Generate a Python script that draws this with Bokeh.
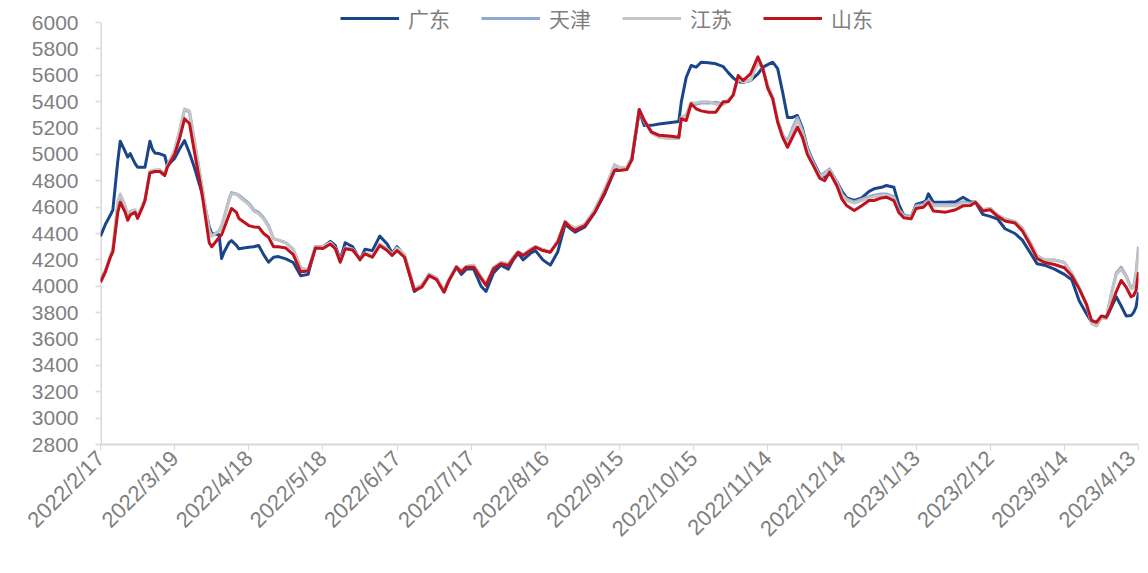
import math
import pandas as pd
from bokeh.plotting import figure
from bokeh.models import FixedTicker, Range1d, Legend, LegendItem
from bokeh.embed import file_html
from bokeh.resources import INLINE

dates = [
    "2022-02-17", "2022-02-19", "2022-02-21", "2022-02-22", "2022-02-24", "2022-02-25", "2022-02-27", "2022-02-28",
    "2022-03-01", "2022-03-03", "2022-03-04", "2022-03-06", "2022-03-07", "2022-03-09", "2022-03-10", "2022-03-11",
    "2022-03-13", "2022-03-15", "2022-03-16", "2022-03-19", "2022-03-21", "2022-03-23", "2022-03-25", "2022-03-27",
    "2022-03-30", "2022-04-02", "2022-04-03", "2022-04-06", "2022-04-07", "2022-04-08", "2022-04-10", "2022-04-11",
    "2022-04-13", "2022-04-14", "2022-04-18", "2022-04-20", "2022-04-22", "2022-04-24", "2022-04-26", "2022-04-28",
    "2022-04-30", "2022-05-03", "2022-05-06", "2022-05-09", "2022-05-12", "2022-05-15", "2022-05-18", "2022-05-21",
    "2022-05-23", "2022-05-25", "2022-05-27", "2022-05-30", "2022-06-02", "2022-06-04", "2022-06-07", "2022-06-10",
    "2022-06-13", "2022-06-15", "2022-06-17", "2022-06-20", "2022-06-24", "2022-06-27", "2022-06-30", "2022-07-03",
    "2022-07-06", "2022-07-08", "2022-07-11", "2022-07-13", "2022-07-15", "2022-07-18", "2022-07-21", "2022-07-23",
    "2022-07-26", "2022-07-29", "2022-08-01", "2022-08-03", "2022-08-05", "2022-08-07", "2022-08-10", "2022-08-12",
    "2022-08-15", "2022-08-18", "2022-08-21", "2022-08-24", "2022-08-26", "2022-08-28", "2022-09-01", "2022-09-05",
    "2022-09-09", "2022-09-13", "2022-09-15", "2022-09-18", "2022-09-20", "2022-09-23", "2022-09-25", "2022-09-28",
    "2022-10-01", "2022-10-05", "2022-10-09", "2022-10-10", "2022-10-12", "2022-10-14", "2022-10-16", "2022-10-18",
    "2022-10-21", "2022-10-24", "2022-10-27", "2022-10-29", "2022-10-31", "2022-11-02", "2022-11-04", "2022-11-07",
    "2022-11-10", "2022-11-12", "2022-11-14", "2022-11-16", "2022-11-18", "2022-11-20", "2022-11-22", "2022-11-24",
    "2022-11-26", "2022-11-28", "2022-11-30", "2022-12-02", "2022-12-05", "2022-12-07", "2022-12-09", "2022-12-12",
    "2022-12-14", "2022-12-16", "2022-12-19", "2022-12-22", "2022-12-25", "2022-12-27", "2022-12-30", "2023-01-01",
    "2023-01-04", "2023-01-06", "2023-01-08", "2023-01-11", "2023-01-13", "2023-01-16", "2023-01-17", "2023-01-18",
    "2023-01-20", "2023-01-25", "2023-01-29", "2023-02-01", "2023-02-04", "2023-02-06", "2023-02-09", "2023-02-12",
    "2023-02-15", "2023-02-18", "2023-02-22", "2023-02-25", "2023-02-28", "2023-03-03", "2023-03-06", "2023-03-10",
    "2023-03-14", "2023-03-17", "2023-03-20", "2023-03-23", "2023-03-25", "2023-03-27", "2023-03-29", "2023-03-31",
    "2023-04-02", "2023-04-04", "2023-04-06", "2023-04-08", "2023-04-10", "2023-04-11", "2023-04-12", "2023-04-13",
]

guangdong = [
    4380, 4470, 4540, 4580, 4950, 5100, 5020, 4980, 5006, 4930, 4903, 4903, 4903, 5100, 5040, 5010,
    5004, 4990, 4915, 4970, 5040, 5105, 5010, 4900, 4710, 4450, 4400, 4390, 4210, 4260, 4330, 4347,
    4310, 4284, 4296, 4300, 4309, 4240, 4182, 4220, 4225, 4208, 4180, 4080, 4090, 4300, 4300, 4340,
    4310, 4200, 4330, 4300, 4200, 4280, 4270, 4380, 4320, 4250, 4300, 4230, 3960, 4000, 4090, 4060,
    3960, 4044, 4145, 4090, 4130, 4130, 4000, 3960, 4100, 4160, 4130, 4200, 4250, 4200, 4250, 4270,
    4200, 4160, 4260, 4470, 4440, 4410, 4450, 4560, 4700, 4880, 4890, 4900, 4960, 5330, 5219, 5220,
    5230, 5240, 5250, 5396, 5585, 5674, 5661, 5699, 5695, 5687, 5665, 5620, 5580, 5550, 5547, 5560,
    5610, 5661, 5680, 5699, 5650, 5472, 5280, 5280, 5295, 5200, 5050, 4960, 4850, 4830, 4880, 4790,
    4720, 4670, 4650, 4670, 4720, 4739, 4750, 4764, 4751, 4620, 4540, 4524, 4620, 4637, 4650, 4701,
    4637, 4637, 4640, 4675, 4640, 4637, 4545, 4530, 4510, 4436, 4400, 4350, 4260, 4170, 4160, 4130,
    4090, 4050, 3890, 3790, 3730, 3720, 3770, 3760, 3840, 3920, 3850, 3775, 3778, 3800, 3841, 3955,
]

tianjin = [
    4050, 4120, 4230, 4280, 4620, 4690, 4600, 4540, 4560, 4570, 4530, 4610, 4660, 4870, 4875, 4880,
    4880, 4850, 4910, 5030, 5170, 5340, 5320, 5100, 4760, 4420, 4380, 4420, 4460, 4520, 4660, 4710,
    4700, 4690, 4630, 4580, 4560, 4520, 4460, 4360, 4350, 4330, 4280, 4140, 4120, 4300, 4300, 4330,
    4290, 4190, 4290, 4280, 4210, 4250, 4230, 4320, 4280, 4240, 4290, 4240, 3980, 4010, 4090, 4060,
    3970, 4050, 4150, 4120, 4150, 4160, 4070, 4020, 4140, 4180, 4170, 4220, 4260, 4240, 4280, 4300,
    4280, 4260, 4340, 4490, 4460, 4440, 4470, 4580, 4730, 4920, 4900, 4900, 4980, 5340, 5260, 5170,
    5140, 5130, 5130, 5280, 5300, 5390, 5380, 5390, 5390, 5395, 5380, 5410, 5450, 5580, 5550, 5560,
    5700, 5650, 5520, 5430, 5260, 5150, 5100, 5200, 5280, 5180, 5040, 4950, 4840, 4860, 4890, 4790,
    4700, 4660, 4640, 4660, 4680, 4690, 4700, 4700, 4680, 4580, 4540, 4530, 4610, 4620, 4640, 4650,
    4620, 4620, 4620, 4640, 4630, 4640, 4580, 4590, 4540, 4510, 4490, 4440, 4340, 4230, 4200, 4200,
    4180, 4100, 3990, 3860, 3720, 3700, 3760, 3760, 3940, 4100, 4145, 4080, 3990, 4000, 4100, 4300,
]

jiangsu = [
    4050, 4120, 4230, 4280, 4640, 4700, 4610, 4540, 4570, 4580, 4530, 4610, 4660, 4870, 4880, 4880,
    4885, 4850, 4910, 5030, 5180, 5345, 5330, 5100, 4760, 4420, 4380, 4420, 4460, 4510, 4650, 4700,
    4700, 4680, 4620, 4570, 4550, 4510, 4450, 4360, 4350, 4330, 4280, 4140, 4120, 4300, 4300, 4330,
    4290, 4190, 4290, 4280, 4210, 4250, 4230, 4320, 4280, 4240, 4290, 4240, 3980, 4010, 4090, 4060,
    3970, 4050, 4150, 4120, 4150, 4160, 4070, 4020, 4140, 4180, 4170, 4220, 4260, 4240, 4280, 4300,
    4280, 4260, 4340, 4490, 4460, 4440, 4470, 4580, 4730, 4920, 4900, 4900, 4980, 5340, 5250, 5160,
    5130, 5120, 5120, 5280, 5300, 5390, 5390, 5400, 5400, 5380, 5380, 5410, 5450, 5570, 5550, 5560,
    5700, 5650, 5520, 5430, 5260, 5150, 5080, 5180, 5260, 5170, 5030, 4940, 4830, 4850, 4880, 4780,
    4690, 4650, 4630, 4650, 4670, 4680, 4690, 4690, 4670, 4570, 4530, 4520, 4600, 4610, 4630, 4640,
    4610, 4610, 4610, 4630, 4620, 4640, 4580, 4590, 4540, 4510, 4490, 4440, 4340, 4230, 4200, 4200,
    4180, 4100, 3990, 3860, 3720, 3700, 3760, 3760, 3940, 4090, 4130, 4070, 3980, 3990, 4080, 4280,
]

shandong = [
    4030, 4110, 4220, 4260, 4560, 4637, 4560, 4500, 4540, 4560, 4514, 4600, 4650, 4860, 4865, 4870,
    4870, 4840, 4900, 5000, 5120, 5270, 5234, 5020, 4710, 4330, 4300, 4370, 4390, 4440, 4540, 4590,
    4560, 4514, 4460, 4450, 4448, 4400, 4372, 4300, 4300, 4290, 4240, 4110, 4115, 4290, 4286, 4320,
    4286, 4182, 4284, 4275, 4205, 4246, 4220, 4309, 4271, 4233, 4271, 4220, 3968, 3993, 4081, 4050,
    3955, 4044, 4145, 4107, 4145, 4145, 4060, 4006, 4132, 4170, 4157, 4208, 4258, 4233, 4271, 4296,
    4271, 4258, 4334, 4486, 4448, 4423, 4460, 4560, 4710, 4880, 4878, 4885, 4960, 5340, 5257, 5168,
    5145, 5140, 5130, 5270, 5257, 5384, 5346, 5330, 5320, 5320, 5400, 5400, 5450, 5598, 5560, 5611,
    5740, 5650, 5500, 5420, 5244, 5130, 5054, 5130, 5206, 5130, 5000, 4930, 4820, 4800, 4865, 4760,
    4660, 4610, 4574, 4610, 4650, 4650, 4670, 4675, 4650, 4560, 4520, 4511, 4590, 4599, 4620, 4637,
    4570, 4562, 4580, 4610, 4612, 4637, 4570, 4580, 4530, 4495, 4480, 4420, 4320, 4210, 4180, 4165,
    4140, 4080, 3980, 3860, 3740, 3727, 3775, 3765, 3850, 3960, 4044, 3993, 3920, 3930, 3968, 4107,
]

series_names = ["广东", "天津", "江苏", "山东"]
series_colors = ["#1B4589", "#8FA8D2", "#C4C4C4", "#C0121C"]

x_tick_labels = [
    "2022/2/17", "2022/3/19", "2022/4/18", "2022/5/18", "2022/6/17", "2022/7/17", "2022/8/16",
    "2022/9/15", "2022/10/15", "2022/11/14", "2022/12/14", "2023/1/13", "2023/2/12", "2023/3/14",
    "2023/4/13",
]
y_ticks = list(range(2800, 6001, 200))

start = pd.Timestamp(dates[0])
xs = [(pd.Timestamp(d) - start).days for d in dates]
tick_pos = [int((t - start).days) for t in pd.to_datetime(x_tick_labels, format="%Y/%m/%d")]

# frame: axis from 2800 (canvas y 444) to 6000 (canvas y 22); frame extended 20px higher for the legend
AXIS_PX = 422
EXTRA_PX = 20
y_end = y_ticks[-1] + EXTRA_PX * (y_ticks[-1] - y_ticks[0]) / AXIS_PX

p = figure(
    width=1140, height=565, output_backend="svg", toolbar_location=None,
    x_range=Range1d(tick_pos[0], tick_pos[-1]), y_range=Range1d(y_ticks[0], y_end),
    min_border_left=100, min_border_right=2, min_border_top=22 - EXTRA_PX, min_border_bottom=121,
)
p.outline_line_color = None
p.xgrid.visible = False
p.ygrid.visible = False
p.background_fill_color = "white"

axis_col = "#D9D9D9"
label_col = "#7F7F7F"
font = "Liberation Sans"

# y axis line only up to the top tick
p.segment(x0=[tick_pos[0]], y0=[y_ticks[0]], x1=[tick_pos[0]], y1=[y_ticks[-1]],
          line_color=axis_col, line_width=3)

renderers = []
for vals, color in zip([guangdong, tianjin, jiangsu, shandong], series_colors):
    r = p.line(xs, vals, line_color=color, line_width=3, line_join="round")
    renderers.append(r)

p.yaxis.ticker = FixedTicker(ticks=y_ticks)
p.yaxis.axis_line_color = None
p.yaxis.major_tick_line_color = axis_col
p.yaxis.major_tick_line_width = 1.5
p.yaxis.major_tick_out = 5
p.yaxis.major_tick_in = 0
p.yaxis.minor_tick_line_color = None
p.yaxis.major_label_text_font = font
p.yaxis.major_label_text_font_size = "21px"
p.yaxis.major_label_text_color = label_col
p.yaxis.major_label_standoff = 17

p.xaxis.ticker = FixedTicker(ticks=tick_pos)
p.xaxis.major_label_overrides = {pos: lab for pos, lab in zip(tick_pos, x_tick_labels)}
p.xaxis.major_label_orientation = math.pi / 4
p.xaxis.axis_line_color = axis_col
p.xaxis.axis_line_width = 2
p.xaxis.major_tick_line_color = axis_col
p.xaxis.major_tick_out = 6
p.xaxis.major_tick_in = 0
p.xaxis.minor_tick_line_color = None
p.xaxis.major_label_text_font = font
p.xaxis.major_label_text_font_size = "22px"
p.xaxis.major_label_text_color = label_col
p.xaxis.major_label_standoff = 4

legend = Legend(
    items=[LegendItem(label=n, renderers=[r]) for n, r in zip(series_names, renderers)],
    orientation="horizontal",
    location=(240, AXIS_PX - 11),
    glyph_width=59, glyph_height=20, label_standoff=9, spacing=31,
    padding=2, margin=0,
    label_text_font="Noto Sans CJK SC", label_text_font_size="21px",
    label_text_color=label_col, label_height=22,
    border_line_color=None, background_fill_alpha=0,
)
p.add_layout(legend, "center")

open("out.html", "w").write(file_html(p, INLINE))
